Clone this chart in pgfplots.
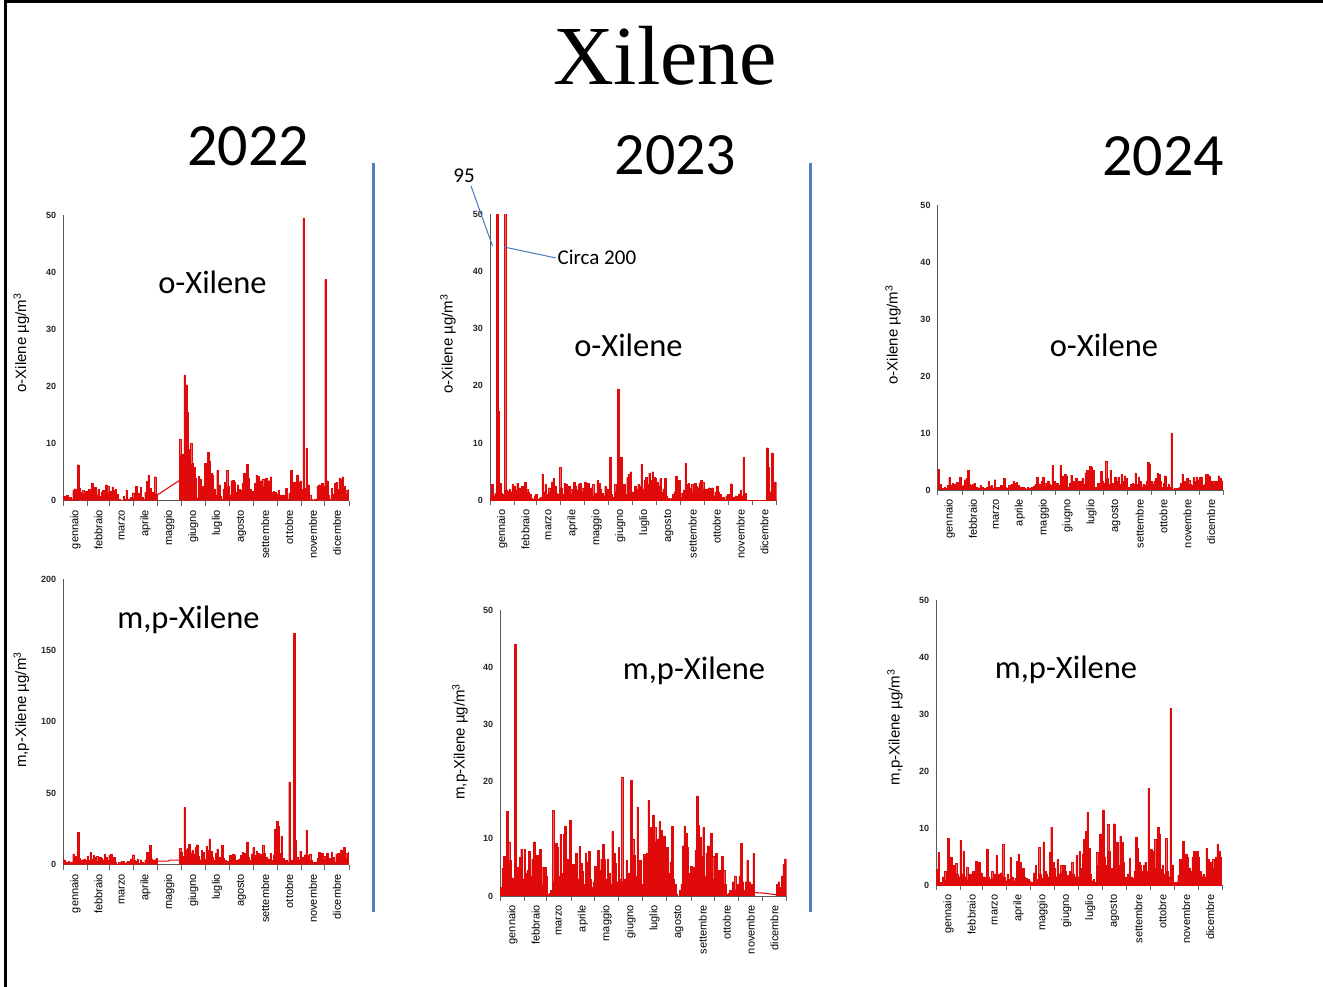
\documentclass[border=0pt]{standalone}
\usepackage{pgfplots}
\pgfplotsset{compat=1.18}
\usepackage{pgfplotstable}
\usepackage{fontspec}
\setmainfont{Liberation Sans}
\newfontfamily\calib{Carlito}
\newfontfamily\serifx{Liberation Serif}
\definecolor{xred}{RGB}{224,10,10}
\definecolor{sepblue}{RGB}{79,129,189}
\definecolor{noteblue}{RGB}{70,120,190}

% two-day values (one row every 2 days, starting at the segment's first day)
% 2022 o-Xilene: days 0-120, then days 148-364
\pgfplotstableread[row sep=\\,header=false]{
0.8\\0.5\\1.0\\0.3\\0.6\\0.2\\1.9\\2.1\\1.2\\6.3\\2.2\\1.5\\1.8\\1.2\\1.6\\1.0\\
2.0\\1.0\\3.0\\1.3\\2.3\\1.0\\2.0\\0.8\\1.5\\1.8\\1.2\\2.8\\2.5\\1.4\\
1.6\\2.4\\1.8\\2.0\\1.2\\0.3\\0.0\\0.0\\0.8\\0.2\\1.9\\0.2\\0.3\\0.6\\1.4\\
0.5\\2.5\\0.9\\1.3\\2.3\\0.6\\0.2\\1.5\\3.4\\4.5\\2.2\\1.0\\1.5\\4.2\\1.2\\1.0\\
}\oxAa
\pgfplotstableread[row sep=\\,header=false]{
10.8\\8.0\\8.2\\22.0\\20.3\\15.5\\9.0\\10.0\\6.5\\5.8\\4.0\\0.5\\
4.3\\3.8\\1.2\\2.5\\6.5\\5.8\\8.5\\7.0\\4.8\\4.5\\2.0\\1.0\\5.3\\2.8\\0.8\\0.3\\2.0\\3.2\\5.3\\2.5\\
1.0\\3.5\\3.6\\3.2\\1.5\\2.8\\2.0\\1.8\\3.0\\4.8\\4.6\\6.4\\4.0\\2.0\\1.6\\1.5\\
3.0\\4.5\\4.3\\2.5\\3.5\\3.8\\2.5\\4.0\\3.3\\3.5\\4.2\\1.5\\1.6\\1.5\\1.2\\
1.8\\1.0\\0.8\\1.0\\0.5\\2.2\\0.3\\1.3\\5.3\\1.2\\3.3\\3.0\\4.5\\3.2\\3.5\\
2.0\\49.5\\2.2\\9.2\\2.8\\1.0\\0.2\\0.1\\0.2\\0.3\\2.5\\2.8\\2.0\\3.0\\2.5\\
38.7\\3.5\\1.0\\0.3\\2.2\\1.2\\3.0\\3.2\\2.0\\4.0\\3.8\\4.2\\2.5\\1.8\\1.2\\2.0\\
}\oxAb
% 2022 m,p-Xilene: days 0-120, then days 148-364
\pgfplotstableread[row sep=\\,header=false]{
3.5\\2.0\\1.5\\2.5\\1.8\\2.0\\7.5\\6.0\\3.5\\22.5\\4.5\\3.0\\3.5\\4.0\\3.2\\6.0\\
3.0\\8.5\\4.0\\6.5\\5.5\\6.0\\2.5\\5.0\\4.5\\3.5\\7.5\\5.5\\3.0\\6.5\\
7.5\\4.0\\5.0\\2.0\\0.5\\1.5\\0.5\\2.5\\2.5\\0.8\\1.5\\2.5\\1.0\\4.0\\7.0\\
3.0\\2.5\\4.0\\1.0\\3.5\\2.0\\1.0\\3.5\\8.5\\7.5\\13.5\\4.0\\3.0\\3.5\\4.5\\3.0\\
}\mpAa
\pgfplotstableread[row sep=\\,header=false]{
11.5\\9.0\\6.0\\40.0\\10.5\\11.5\\14.5\\8.0\\10.0\\7.5\\12.0\\14.0\\
6.0\\3.5\\10.0\\8.5\\4.0\\13.0\\10.0\\18.0\\9.5\\5.0\\3.0\\8.0\\11.0\\5.5\\2.0\\13.5\\4.5\\3.0\\2.5\\1.5\\
6.5\\5.5\\7.5\\7.0\\3.0\\2.5\\4.0\\6.5\\8.5\\8.0\\5.5\\16.0\\5.0\\3.0\\7.5\\12.0\\
6.5\\9.5\\8.0\\5.5\\7.5\\13.5\\8.0\\5.5\\3.0\\4.0\\8.0\\3.0\\7.0\\25.0\\30.5\\
27.0\\8.0\\20.0\\4.5\\2.5\\3.0\\2.0\\58.0\\3.0\\2.5\\162.0\\17.0\\5.0\\3.5\\9.5\\
5.5\\4.0\\7.0\\24.0\\6.5\\7.5\\3.0\\1.5\\0.8\\1.5\\4.5\\8.5\\5.0\\8.0\\6.0\\
4.0\\8.0\\2.0\\4.5\\9.0\\5.0\\2.0\\7.5\\8.0\\5.0\\10.5\\6.0\\12.0\\8.0\\5.0\\9.0\\
}\mpAb
% 2023 o-Xilene: days 0-364
\pgfplotstableread[row sep=\\,header=false]{
0.5\\2.8\\0.8\\1.2\\95\\15.6\\3.0\\1.2\\1.0\\200\\1.8\\1.6\\2.0\\1.5\\2.8\\2.5\\
1.8\\3.0\\2.2\\1.0\\2.5\\1.5\\3.2\\2.0\\1.5\\1.0\\0.3\\0.2\\0.8\\1.0\\
0.2\\0.3\\0.5\\4.6\\1.5\\2.8\\1.0\\2.2\\1.5\\3.2\\3.8\\2.5\\1.2\\1.0\\5.8\\
2.2\\1.0\\3.0\\2.8\\1.5\\2.5\\2.0\\1.2\\3.2\\2.5\\1.8\\2.8\\3.0\\2.2\\1.5\\
3.2\\2.5\\3.0\\1.8\\2.2\\2.8\\0.8\\1.2\\3.5\\3.0\\2.0\\1.2\\0.8\\2.5\\2.0\\1.5\\
7.5\\1.0\\0.5\\2.8\\1.5\\19.5\\1.8\\7.5\\1.5\\2.8\\1.0\\4.0\\4.5\\5.0\\1.5\\
1.0\\2.5\\2.0\\2.8\\2.5\\6.3\\2.0\\3.5\\4.0\\2.8\\4.8\\3.5\\5.0\\4.0\\3.8\\
3.2\\2.5\\3.8\\1.5\\2.0\\3.8\\0.8\\0.3\\0.2\\0.4\\1.0\\1.5\\4.2\\2.0\\3.5\\1.2\\
0.5\\1.8\\6.5\\2.8\\3.0\\2.2\\2.8\\1.5\\3.0\\2.5\\2.2\\3.0\\3.5\\3.2\\2.0\\
2.0\\1.2\\2.2\\1.5\\2.2\\0.8\\1.5\\2.5\\1.5\\1.0\\0.3\\0.5\\0.2\\0.8\\1.0\\
0.5\\2.9\\0.5\\0.6\\0.8\\0.5\\1.0\\1.8\\0.8\\7.5\\1.2\\0\\0\\0\\0\\
0\\0\\0\\0\\0\\0\\0\\0\\0\\9.2\\5.8\\1.5\\8.3\\1.0\\3.2\\0.8\\
}\oxB
% 2023 m,p-Xilene: days 0-324, then days 352-364
\pgfplotstableread[row sep=\\,header=false]{
1.5\\4.8\\7.0\\2.0\\14.8\\9.5\\6.2\\3.2\\2.5\\44.0\\3.8\\5.0\\6.8\\8.2\\3.0\\8.2\\
4.0\\4.5\\7.8\\3.5\\6.5\\9.5\\3.0\\7.2\\4.0\\8.2\\5.0\\2.0\\5.0\\3.5\\
0.3\\0.5\\1.0\\15.0\\2.5\\9.2\\8.5\\3.5\\10.8\\4.0\\10.8\\12.2\\6.5\\2.0\\13.3\\
3.5\\5.5\\2.0\\7.5\\3.0\\8.7\\5.8\\4.3\\2.0\\7.5\\6.0\\7.8\\3.0\\1.5\\2.5\\
5.2\\2.0\\8.0\\4.5\\6.5\\9.0\\6.5\\3.0\\6.5\\4.0\\2.0\\11.3\\7.5\\5.8\\2.5\\8.5\\
3.0\\20.7\\2.5\\3.0\\6.2\\4.0\\1.5\\20.3\\10.0\\7.2\\3.5\\15.6\\6.2\\6.2\\2.0\\
7.3\\7.0\\7.5\\16.7\\12.0\\8.0\\14.2\\12.0\\9.5\\10.0\\13.0\\11.5\\9.0\\10.5\\8.5\\
8.5\\4.0\\6.0\\12.2\\3.0\\2.0\\0.3\\0.0\\1.0\\2.0\\8.8\\12.2\\11.0\\8.5\\4.0\\5.2\\
1.0\\5.0\\8.0\\17.5\\12.3\\10.3\\7.0\\12.0\\3.5\\7.5\\8.8\\4.0\\11.0\\7.0\\3.0\\
7.5\\3.5\\4.5\\4.0\\7.0\\4.5\\2.0\\0.3\\0.5\\1.0\\0.8\\2.5\\3.5\\1.0\\2.0\\
3.5\\9.2\\2.5\\1.0\\2.5\\6.3\\2.5\\1.5\\2.0\\7.5\\0.6\\
}\mpBa
\pgfplotstableread[row sep=\\,header=false]{
2.0\\2.5\\1.5\\3.5\\5.5\\6.5\\4.0\\
}\mpBb
% 2024 o-Xilene: days 0-364
\pgfplotstableread[row sep=\\,header=false]{
3.6\\1.0\\0.3\\0.3\\0.5\\0.3\\0.8\\2.2\\0.8\\1.2\\1.0\\0.8\\1.3\\0.9\\2.2\\0.6\\
0.8\\1.8\\2.0\\3.5\\1.0\\0.8\\1.0\\1.2\\0.5\\0.3\\0.4\\0.8\\0.5\\0.3\\
0.2\\0.5\\1.5\\0.6\\0.8\\0.4\\1.8\\0.5\\0.5\\0.3\\0.8\\0.5\\2.0\\0.5\\0.3\\
0.8\\0.5\\1.0\\1.5\\1.2\\1.3\\0.8\\0.5\\0.3\\0.5\\0.3\\0.2\\0.5\\0.4\\0.3\\
0.5\\0.6\\1.0\\2.2\\0.8\\1.0\\1.5\\2.3\\1.2\\0.8\\1.6\\1.0\\0.8\\4.3\\1.5\\1.0\\
1.2\\0.8\\4.3\\2.5\\1.0\\2.8\\2.5\\0.5\\1.2\\2.6\\1.5\\0.8\\2.0\\1.0\\1.5\\
1.5\\2.0\\1.0\\3.0\\3.5\\2.5\\4.2\\4.0\\3.5\\0.5\\0.3\\1.2\\0.8\\3.3\\1.5\\
1.2\\5.1\\2.0\\1.0\\3.5\\1.2\\0.8\\2.3\\1.5\\2.3\\1.0\\2.7\\1.5\\2.5\\2.0\\0.5\\
0.5\\1.0\\1.2\\1.0\\3.0\\1.0\\2.3\\1.5\\0.5\\1.0\\0.8\\1.5\\4.9\\4.5\\1.5\\
1.0\\1.5\\2.0\\2.9\\2.8\\1.5\\0.5\\1.2\\2.5\\0.5\\1.0\\0.5\\10.0\\0.2\\0.3\\
0.3\\0.3\\0.5\\1.2\\2.8\\1.5\\1.0\\2.0\\1.8\\1.0\\0.8\\2.2\\1.5\\2.3\\1.8\\
2.3\\2.3\\0.8\\1.0\\2.8\\2.7\\2.5\\1.0\\1.6\\1.5\\1.2\\1.5\\2.5\\2.0\\1.6\\1.6\\
}\oxC
% 2024 m,p-Xilene: days 0-364
\pgfplotstableread[row sep=\\,header=false]{
2.8\\5.8\\0.5\\0.5\\1.5\\2.5\\1.0\\8.2\\3.0\\5.0\\2.5\\3.5\\3.8\\2.0\\1.5\\7.9\\
2.0\\6.0\\1.5\\3.2\\1.0\\2.0\\1.2\\2.5\\1.5\\4.2\\2.5\\4.0\\2.2\\1.0\\
1.5\\0.8\\6.3\\1.5\\1.0\\2.5\\1.2\\2.0\\5.3\\2.0\\1.5\\2.2\\7.2\\1.5\\0.8\\
2.0\\1.0\\4.9\\1.5\\0.8\\1.2\\4.2\\5.5\\4.0\\1.5\\3.0\\1.5\\1.2\\1.0\\0.8\\
0.6\\0.5\\2.2\\3.5\\1.0\\6.6\\2.0\\1.2\\7.6\\2.5\\2.0\\1.5\\5.8\\10.2\\4.0\\3.0\\
1.5\\4.5\\2.0\\3.5\\2.2\\3.5\\2.5\\1.8\\1.2\\2.5\\4.0\\2.0\\1.5\\5.2\\1.5\\
6.0\\3.0\\5.5\\8.0\\9.5\\12.8\\6.5\\2.0\\0.8\\1.0\\0.5\\5.8\\3.5\\9.0\\4.0\\
13.2\\5.0\\3.5\\10.7\\6.0\\3.0\\2.0\\10.8\\5.5\\7.5\\3.5\\8.6\\7.5\\4.0\\1.5\\1.2\\
2.0\\4.8\\1.5\\1.2\\2.5\\8.5\\6.5\\4.0\\3.5\\2.5\\3.5\\4.0\\2.5\\17.0\\6.3\\
6.3\\6.0\\8.0\\3.0\\10.2\\9.0\\2.8\\3.5\\2.0\\8.2\\2.5\\1.5\\31.0\\3.6\\0.5\\
0.5\\0.6\\1.8\\4.5\\2.0\\7.7\\4.5\\5.5\\5.0\\3.0\\2.5\\5.0\\6.0\\4.0\\6.0\\
5.0\\2.5\\1.5\\2.0\\1.5\\6.5\\4.5\\2.0\\4.0\\4.5\\3.0\\5.0\\7.2\\6.0\\5.0\\5.0\\
}\mpC

\pgfplotsset{
  panel/.style={
    scale only axis, anchor=south west,
    xmin=0, xmax=365, ymin=0,
    axis x line=bottom, axis y line=left,
    axis line style={-, draw=black!65, line width=0.8pt},
    xtick={15.5,45,74.5,105,135.5,166,196.5,227.5,258,288.5,319,349.5},
    xticklabels={gennaio,febbraio,marzo,aprile,maggio,giugno,luglio,agosto,settembre,ottobre,novembre,dicembre},
    minor xtick={0,31,59,90,120,151,181,212,243,273,304,334,365},
    tick align=outside,
    major tick length=0pt, minor tick length=5pt,
    minor tick style={draw=black!60, line width=0.8pt},
    major tick style={draw=none},
    ytick style={draw=none},
    xticklabel style={rotate=90, anchor=east, inner sep=0pt,
      font=\fontsize{11}{11}\selectfont},
    xticklabel shift=9pt,
    /pgf/number format/assume math mode=true,
    yticklabel style={font=\bfseries\fontsize{9}{9}\selectfont,
      text=black!85, inner sep=0pt},
    yticklabel shift=7pt,
    clip=true,
  },
  days/.style={const plot, fill=xred, draw=xred, line width=0.3pt},
  gapline/.style={draw=xred, line width=1.1pt, sharp plot, mark=none},
}

\begin{document}
\begin{tikzpicture}[x=1pt,y=1pt]
\path[use as bounding box] (0,0) rectangle (1323,987);
% frame
\draw[line width=2.5pt] (5.5,0) -- (5.5,985.5) -- (1323,985.5);
% separators
\draw[sepblue, line width=3pt] (373,824) -- (373,75);
\draw[sepblue, line width=3pt] (810,824) -- (810,75);
% titles
\node[anchor=base, font=\serifx\fontsize{84}{84}\selectfont] at (665,902) {Xilene};
\node[anchor=base, font=\calib\fontsize{60}{60}\selectfont] at (248,821) {2022};
\node[anchor=base, font=\calib\fontsize{60}{60}\selectfont] at (675.5,812) {2023};
\node[anchor=base, font=\calib\fontsize{60}{60}\selectfont] at (1163,811) {2024};

% ---------- 2022 ----------
\begin{axis}[panel, at={(63.3pt,486.3pt)}, width=285.7pt, height=285.7pt,
  ymax=50, ytick={0,10,...,50}]
\addplot[days] table[x expr=2*\coordindex, y index=0] {\oxAa} \closedcycle;
\addplot[gapline] coordinates {(120,1.0) (148,3.5)};
\addplot[days] table[x expr=148+2*\coordindex, y index=0] {\oxAb} \closedcycle;
\end{axis}
\begin{axis}[panel, at={(63.3pt,122.3pt)}, width=285.7pt, height=285.7pt,
  ymax=200, ytick={0,50,...,200}]
\addplot[days] table[x expr=2*\coordindex, y index=0] {\mpAa} \closedcycle;
\addplot[gapline] coordinates {(120,2.5) (134,2.5) (136,3.2) (148,3.2)};
\addplot[days] table[x expr=148+2*\coordindex, y index=0] {\mpAb} \closedcycle;
\end{axis}

% ---------- 2023 ----------
\begin{axis}[panel, at={(490pt,486.7pt)}, width=286.7pt, height=286pt,
  ymax=50, ytick={0,10,...,50}]
\addplot[days] table[x expr=2*\coordindex, y index=0] {\oxB} \closedcycle;
\end{axis}
\begin{axis}[panel, at={(500.3pt,91pt)}, width=286.4pt, height=286pt,
  ymax=50, ytick={0,10,...,50}]
\addplot[days] table[x expr=2*\coordindex, y index=0] {\mpBa} \closedcycle;
\addplot[gapline] coordinates {(324,0.6) (336,0.5) (352,0.2)};
\addplot[days] table[x expr=352+2*\coordindex, y index=0] {\mpBb} \closedcycle;
\end{axis}

% ---------- 2024 ----------
\begin{axis}[panel, at={(937.7pt,497pt)}, width=285.6pt, height=285pt,
  ymax=50, ytick={0,10,...,50}]
\addplot[days] table[x expr=2*\coordindex, y index=0] {\oxC} \closedcycle;
\end{axis}
\begin{axis}[panel, at={(936.3pt,101.7pt)}, width=286pt, height=285.3pt,
  ymax=50, ytick={0,10,...,50}]
\addplot[days] table[x expr=2*\coordindex, y index=0] {\mpC} \closedcycle;
\end{axis}

% axis titles
\begin{scope}[every node/.style={rotate=90, font=\fontsize{15}{15}\selectfont}]
\node at (21.5,644) {o-Xilene µg/m\textsuperscript{3}};
\node at (21.5,277) {m,p-Xilene µg/m\textsuperscript{3}};
\node at (448,643) {o-Xilene µg/m\textsuperscript{3}};
\node at (460,245.3) {m,p-Xilene µg/m\textsuperscript{3}};
\node at (893,652) {o-Xilene µg/m\textsuperscript{3}};
\node at (895,259.5) {m,p-Xilene µg/m\textsuperscript{3}};
\end{scope}

% panel captions
\begin{scope}[every node/.style={anchor=base, font=\calib\fontsize{32.5}{32.5}\selectfont}]
\node at (212.5,693) {o-Xilene};
\node at (188.5,358.7) {m,p-Xilene};
\node at (628.5,630.3) {o-Xilene};
\node at (694,307.7) {m,p-Xilene};
\node at (1104,630.3) {o-Xilene};
\node at (1066,308.7) {m,p-Xilene};
\end{scope}

% notes on the clipped peaks
\draw[noteblue, line width=1pt] (471,801) -- (492.5,741);
\draw[noteblue, line width=1pt] (504,740) -- (556,729);
\node[anchor=base, font=\calib\fontsize{21}{21}\selectfont] at (464,804) {95};
\node[anchor=base west, inner sep=0pt, font=\calib\fontsize{21}{21}\selectfont] at (557.5,722.5) {Circa 200};
\end{tikzpicture}
\end{document}
